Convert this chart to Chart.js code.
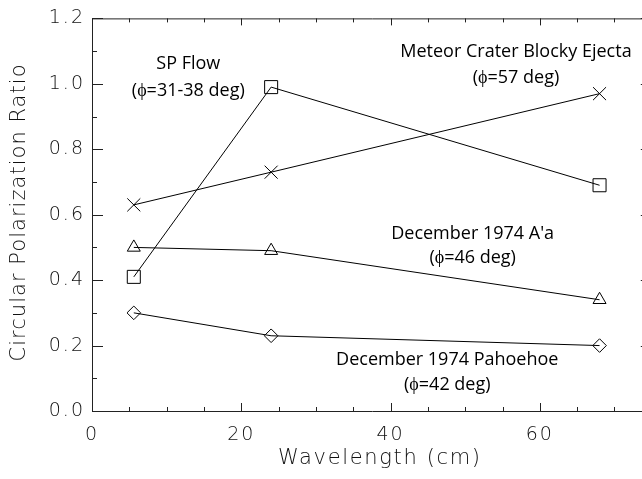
<!DOCTYPE html>
<html lang="en">
<head>
<meta charset="UTF-8">
<title>Circular Polarization Ratio</title>
<script src="https://cdn.jsdelivr.net/npm/chart.js"></script>
<style>
    html, body { margin: 0; padding: 0; background: #fff; overflow: hidden; }
</style>
</head>
<body>
<canvas id="grafico" width="662" height="479"></canvas>

<script>
    // dados (comprimento de onda em cm)
    var wavelengths = [5.6, 24, 68]
    var spFlow = [0.41, 0.99, 0.69]
    var meteorCrater = [0.63, 0.73, 0.97]
    var aa1974 = [0.50, 0.49, 0.34]
    var pahoehoe1974 = [0.30, 0.23, 0.20]
    var xTickValues = [0, 20, 40, 60]
    var yTickValues = [0, 0.2, 0.4, 0.6, 0.8, 1.0, 1.2]
    var xTitle = 'Wavelength (cm)'
    var yTitle = 'Circular Polarization Ratio'

    var noteText = [
        ['SP Flow', '(\u03D5=31-38 deg)'],
        ['Meteor Crater Blocky Ejecta', '(\u03D5=57 deg)'],
        ["December 1974 A'a", '(\u03D5=46 deg)'],
        ['December 1974 Pahoehoe', '(\u03D5=42 deg)']
    ]
    // posicao das anotacoes em coordenadas dos eixos: [x, y linha 1, y linha 2]
    var notePos = [
        [12.9, 1.061, 0.979],
        [56.8, 1.097, 1.018],
        [51.0, 0.542, 0.467],
        [47.6, 0.155, 0.079]
    ]

    function pontos(valores) {
        var lista = []
        for (var i = 0; i < valores.length; i++) {
            lista.push({ x: wavelengths[i], y: valores[i] })
        }
        return lista
    }

    function serie(nome, valores, estilo, raio) {
        return {
            label: nome,
            data: pontos(valores),
            borderColor: '#000',
            borderWidth: 1,
            pointStyle: estilo,
            pointRadius: raio,
            pointBorderColor: '#000',
            pointBorderWidth: 1,
            pointBackgroundColor: 'rgba(0,0,0,0)',
            fill: false,
            tension: 0
        }
    }

    var axisFont = { family: 'DejaVu Sans', size: 19, weight: 200 }
    var axisColor = '#111'

    // escreve o texto com espacamento ajustado para ocupar a largura pedida
    function textoLargura(ctx, texto, x, y, largura) {
        ctx.letterSpacing = '0px'
        var w0 = ctx.measureText(texto).width
        var esp = (largura - w0) / (texto.length - 1)
        ctx.letterSpacing = esp + 'px'
        ctx.textAlign = 'left'
        ctx.fillText(texto, x - largura / 2, y)
    }

    // ticks para dentro nos quatro lados, como no IDL
    var molduraIDL = {
        id: 'molduraIDL',
        beforeDraw: function (chart) {
            chart.ctx.letterSpacing = '2px'
        },
        afterDatasetsDraw: function (chart) {
            var ctx = chart.ctx
            var a = chart.chartArea
            var sx = chart.scales.x
            var sy = chart.scales.y
            ctx.save()
            ctx.letterSpacing = '0px'
            ctx.strokeStyle = '#222'
            ctx.lineWidth = 1
            ctx.beginPath()
            ctx.rect(a.left + 0.5, a.top + 0.5, a.right - a.left, a.bottom - a.top)
            for (var v = 0; v <= sx.max + 0.001; v += 5) {
                var px = Math.round(sx.getPixelForValue(v)) + 0.5
                var major = Math.abs(v % 20) < 0.001
                ctx.moveTo(px, a.bottom)
                ctx.lineTo(px, a.bottom - (major ? 8 : 4))
                ctx.moveTo(px, a.top)
                ctx.lineTo(px, a.top + (major ? 7 : 4))
            }
            for (var k = 0; k <= 12; k++) {
                var py = Math.round(sy.getPixelForValue(k / 10)) + 0.5
                var len = k % 2 === 0 ? 11 : 5
                ctx.moveTo(a.left, py)
                ctx.lineTo(a.left + len, py)
                ctx.moveTo(a.right, py)
                ctx.lineTo(a.right - len, py)
            }
            ctx.stroke()
            ctx.restore()
        },
        afterDraw: function (chart) {
            var ctx = chart.ctx
            var sx = chart.scales.x
            var sy = chart.scales.y
            ctx.save()
            ctx.letterSpacing = '0px'
            ctx.fillStyle = '#000'
            ctx.font = '18px "Open Sans"'
            ctx.textAlign = 'center'
            ctx.textBaseline = 'middle'
            for (var i = 0; i < noteText.length; i++) {
                var px = sx.getPixelForValue(notePos[i][0])
                ctx.fillText(noteText[i][0], px, sy.getPixelForValue(notePos[i][1]))
                ctx.fillText(noteText[i][1], px, sy.getPixelForValue(notePos[i][2]))
            }
            ctx.restore()

            // titulos dos eixos
            ctx.save()
            ctx.fillStyle = axisColor
            ctx.font = '200 21px "DejaVu Sans"'
            ctx.textBaseline = 'middle'
            textoLargura(ctx, xTitle, 379, 459, 202)
            ctx.translate(20, 213)
            ctx.rotate(-Math.PI / 2)
            textoLargura(ctx, yTitle, 0, 0, 297)
            ctx.restore()
        }
    }

    var config = {
        type: 'line',
        data: {
            datasets: [
                serie('SP Flow', spFlow, 'rect', 9.2),
                serie('Meteor Crater Blocky Ejecta', meteorCrater, 'crossRot', 9.2),
                serie("December 1974 A'a", aa1974, 'triangle', 7.5),
                serie('December 1974 Pahoehoe', pahoehoe1974, 'rectRot', 6.8)
            ]
        },
        options: {
            responsive: false,
            animation: false,
            events: [],
            layout: { padding: { top: 15, right: 1, left: 0, bottom: 0 } },
            plugins: {
                legend: { display: false },
                tooltip: { enabled: false }
            },
            scales: {
                x: {
                    type: 'linear',
                    min: 0,
                    max: 75,
                    grid: { display: false, drawTicks: false },
                    border: { display: false },
                    afterBuildTicks: function (scale) {
                        scale.ticks = xTickValues.map(function (v) { return { value: v } })
                    },
                    afterFit: function (scale) { scale.height = 68 },
                    ticks: {
                        font: axisFont,
                        color: axisColor,
                        padding: 13,
                        maxRotation: 0,
                        callback: function (v) { return String(v) }
                    }
                },
                y: {
                    min: 0,
                    max: 1.2,
                    grid: { display: false, drawTicks: false },
                    border: { display: false },
                    afterBuildTicks: function (scale) {
                        scale.ticks = yTickValues.map(function (v) { return { value: v } })
                    },
                    afterFit: function (scale) { scale.width = 92 },
                    ticks: {
                        font: axisFont,
                        color: axisColor,
                        padding: 7,
                        callback: function (v) { return Number(v).toFixed(1) }
                    }
                }
            }
        },
        plugins: [molduraIDL]
    }

    var grafico = new Chart(document.getElementById('grafico'), config)
</script>
</body>
</html>
